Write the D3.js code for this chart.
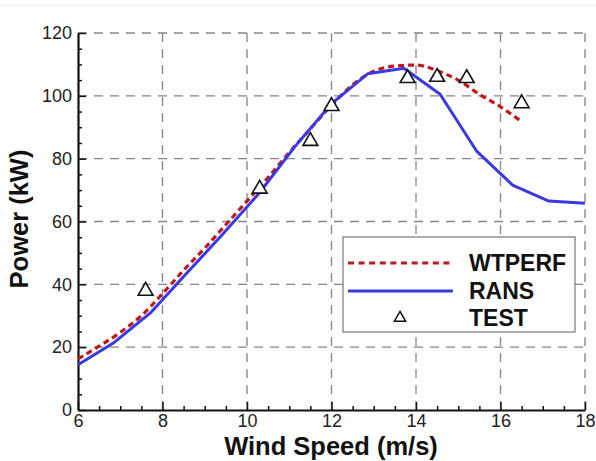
<!DOCTYPE html>
<html>
<head>
<meta charset="utf-8">
<script src="https://cdn.jsdelivr.net/npm/d3@7/dist/d3.min.js"></script>
<style>
  body { margin: 0; background: #fff; }
  svg { display: block; font-family: Arial, 'Liberation Sans', sans-serif; }
</style>
</head>
<body>
<div id="chart"></div>
<script>
// WTPERF prediction (m/s, kW)
const wtperfSpeed = [6, 6.5, 7, 7.5, 8, 8.5, 9, 9.5, 10, 10.5, 11, 11.5, 12, 12.5, 13, 13.5, 14, 14.5, 15, 15.5, 16, 16.5]
const wtperfPower = [16.3, 20.3, 24.7, 30, 37, 44.5, 51.5, 59, 66.5, 74, 82, 89.5, 97, 103.5, 107.8, 109.5, 109.8, 108, 105, 100.5, 96.5, 91.8]

// RANS prediction
const ransSpeed = [6, 6.857, 7.714, 8.571, 9.429, 10.286, 11.143, 12, 12.857, 13.714, 14.571, 15.429, 16.286, 17.143, 18]
const ransPower = [14.4, 21.5, 30.9, 43.5, 56, 69, 84, 97.5, 107, 108.8, 100.5, 82.5, 71.6, 66.5, 65.8]

// measured
const testSpeed = [7.6, 10.3, 11.5, 12, 13.8, 14.5, 15.2, 16.5]
const testPower = [38.2, 70.7, 85.9, 97, 105.9, 106.3, 105.9, 97.9]

const xTicks = [6, 8, 10, 12, 14, 16, 18]
const yTicks = [0, 20, 40, 60, 80, 100, 120]

const W = 596, H = 461
const margin = { top: 33, right: 11, bottom: 51, left: 78 }
const width = W - margin.left - margin.right
const height = H - margin.top - margin.bottom

const svg = d3.select('#chart').append('svg')
  .attr('width', W)
  .attr('height', H)

// faint line along the top of the image
svg.append('line')
  .attr('x1', 0).attr('x2', W).attr('y1', 5).attr('y2', 5)
  .attr('stroke', '#e6e6e6').attr('stroke-width', 1)

const g = svg.append('g')
  .attr('transform', `translate(${margin.left},${margin.top})`)

const x = d3.scaleLinear().domain([6, 18]).range([0, width])
const y = d3.scaleLinear().domain([0, 120]).range([height, 0])

// dashed grid
g.append('g').selectAll('line')
  .data(xTicks.slice(1))
  .enter().append('line')
  .attr('x1', d => x(d)).attr('x2', d => x(d))
  .attr('y1', 0).attr('y2', height)
  .attr('stroke', '#858585').attr('stroke-width', 1.3)
  .attr('stroke-dasharray', '9,7')

g.append('g').selectAll('line')
  .data(yTicks.slice(1))
  .enter().append('line')
  .attr('x1', 0).attr('x2', width)
  .attr('y1', d => y(d)).attr('y2', d => y(d))
  .attr('stroke', '#858585').attr('stroke-width', 1.3)
  .attr('stroke-dasharray', '9,7')

// axes (ticks pointing inward)
const xMinor = d3.range(6, 18.01, 0.5).filter(v => !xTicks.includes(v))
const yMinor = d3.range(0, 120.01, 5).filter(v => !yTicks.includes(v))

const xAxis = g.append('g')
  .attr('transform', `translate(0,${height})`)
  .call(d3.axisBottom(x).tickValues(xTicks).tickSizeInner(-8).tickSizeOuter(0).tickPadding(4))
xAxis.append('g').call(d3.axisBottom(x).tickValues(xMinor).tickSize(-4).tickFormat(''))
  .select('.domain').remove()

const yAxis = g.append('g')
  .call(d3.axisLeft(y).tickValues(yTicks).tickSizeInner(-8).tickSizeOuter(0).tickPadding(6))
yAxis.append('g').call(d3.axisLeft(y).tickValues(yMinor).tickSize(-4).tickFormat(''))
  .select('.domain').remove()

svg.selectAll('.domain').attr('stroke', '#111').attr('stroke-width', 2.2)
svg.selectAll('.tick line').attr('stroke', '#111').attr('stroke-width', 1.5)
svg.selectAll('.tick text')
  .attr('font-size', 18)
  .attr('font-family', 'Arial, Liberation Sans, sans-serif')
  .attr('fill', '#222')

// series
const ransLine = d3.line()
  .x((d, i) => x(ransSpeed[i]))
  .y(d => y(d))

const wtperfLine = d3.line()
  .x((d, i) => x(wtperfSpeed[i]))
  .y(d => y(d))
  .curve(d3.curveMonotoneX)

g.append('path')
  .datum(wtperfPower)
  .attr('d', wtperfLine)
  .attr('fill', 'none')
  .attr('stroke', '#c01818')
  .attr('stroke-width', 3.2)
  .attr('stroke-dasharray', '6,4')

g.append('path')
  .datum(ransPower)
  .attr('d', ransLine)
  .attr('fill', 'none')
  .attr('stroke', '#3a3ae2')
  .attr('stroke-width', 3)
  .attr('stroke-linejoin', 'round')

const tri = d3.symbol().type(d3.symbolTriangle).size(95)

g.selectAll('.test')
  .data(testPower)
  .enter().append('path')
  .attr('class', 'test')
  .attr('d', tri)
  .attr('transform', (d, i) => `translate(${x(testSpeed[i])},${y(d) + 1})`)
  .attr('fill', '#fff')
  .attr('stroke', '#111')
  .attr('stroke-width', 1.6)

// axis titles
svg.append('text')
  .attr('x', 331)
  .attr('y', 455)
  .attr('text-anchor', 'middle')
  .attr('font-size', 25.5)
  .attr('font-weight', 'bold')
  .attr('fill', '#111')
  .text('Wind Speed (m/s)')

svg.append('text')
  .attr('transform', 'translate(28,219) rotate(-90)')
  .attr('text-anchor', 'middle')
  .attr('font-size', 25.5)
  .attr('font-weight', 'bold')
  .attr('fill', '#111')
  .text('Power (kW)')

// legend
const legend = svg.append('g').attr('transform', 'translate(343,237)')
legend.append('rect')
  .attr('width', 232).attr('height', 95)
  .attr('fill', '#fff')
  .attr('stroke', '#777').attr('stroke-width', 1.2)

const legendNames = ['WTPERF', 'RANS', 'TEST']
const rowY = [26, 54, 81]

legend.append('line')
  .attr('x1', 5).attr('x2', 110).attr('y1', rowY[0]).attr('y2', rowY[0])
  .attr('stroke', '#c01818').attr('stroke-width', 3.2).attr('stroke-dasharray', '6,4.6')
legend.append('line')
  .attr('x1', 5).attr('x2', 110).attr('y1', rowY[1]).attr('y2', rowY[1])
  .attr('stroke', '#3a3ae2').attr('stroke-width', 3)
legend.append('path')
  .attr('d', d3.symbol().type(d3.symbolTriangle).size(55))
  .attr('transform', `translate(57,${rowY[2]})`)
  .attr('fill', '#fff').attr('stroke', '#111').attr('stroke-width', 1.5)

legend.selectAll('.lbl')
  .data(legendNames)
  .enter().append('text')
  .attr('class', 'lbl')
  .attr('x', 126)
  .attr('y', (d, i) => rowY[i] + 8)
  .attr('font-size', 23)
  .attr('font-weight', 'bold')
  .attr('fill', '#111')
  .text(d => d)
</script>
</body>
</html>
